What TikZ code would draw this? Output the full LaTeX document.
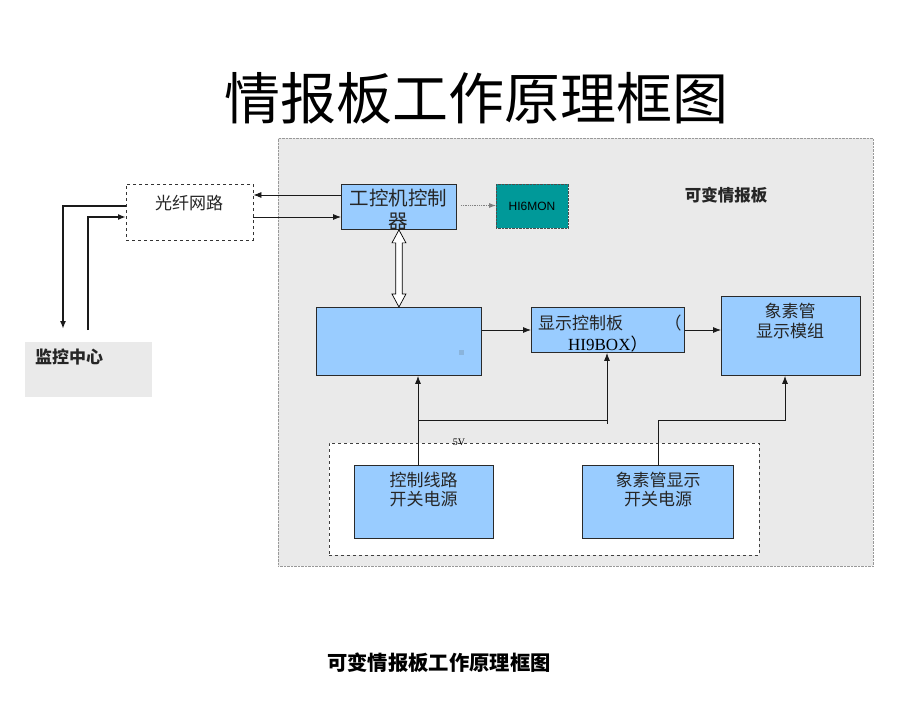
\documentclass[tikz,border=0pt]{standalone}
\usepackage{fontspec}
\setmainfont{Liberation Serif}
\newfontfamily\cjk{Noto Sans CJK SC}
\newfontfamily\arialf{Liberation Sans}
\usetikzlibrary{arrows.meta,calc}
\definecolor{boxblue}{HTML}{99CCFF}
\definecolor{boxedge}{HTML}{2A2A2A}
\definecolor{panelgray}{HTML}{EAEAEA}
\definecolor{teal9}{HTML}{009999}
\definecolor{handle}{HTML}{8AB4DC}
\definecolor{linec}{HTML}{1A1A1A}
\tikzset{
  bluebox/.style={draw=boxedge, fill=boxblue, line width=0.9pt, inner sep=0pt, anchor=north west},
  txt/.style={inner sep=0pt, font=\cjk\fontsize{17}{20}\selectfont, text=black!85},
  arr/.style={draw=linec, line width=0.8pt, -{Latex[length=8pt,width=6pt]}},
  thickarr/.style={draw=linec, line width=1.8pt, -{Latex[length=8pt,width=6pt]}},
  plain/.style={draw=linec, line width=0.8pt}
}
\begin{document}
\begin{tikzpicture}[x=1pt,y=-1pt]
\useasboundingbox[fill=white] (0,0) rectangle (920,711);

% title
\node[inner sep=0pt, font=\cjk\fontsize{56}{60}\selectfont] (title) at (476,98) {情报板工作原理框图};

% panel
\node[draw=gray!80, densely dotted, fill=panelgray, anchor=north west, minimum width=595pt, minimum height=428pt, inner sep=0pt] (panel) at (278,138) {};
\node[txt, font=\cjk\bfseries\fontsize{16.5}{20}\selectfont] (panelt) at (726,195) {可变情报板};

% left side
\node[draw=black!80, dashed, fill=white, anchor=north west, minimum width=127pt, minimum height=56pt, inner sep=0pt] (gx) at (126,184) {};
\node[txt] (gxt) at (189,203) {光纤网路};
\node[fill=panelgray, anchor=north west, minimum width=127pt, minimum height=55pt, inner sep=0pt] (jk) at (25,342) {};
\node[txt, anchor=west, font=\cjk\bfseries\fontsize{17}{20}\selectfont] (jkt) at (35,357) {监控中心};

% boxes
\node[bluebox, minimum width=115pt, minimum height=45pt] (gk) at (341,184) {};
\node[txt, font=\cjk\fontsize{19.5}{22}\selectfont] (gkt1) at (398.5,198) {工控机控制};
\node[txt, font=\cjk\fontsize{19.5}{22}\selectfont] (gkt2) at (398.5,222) {器};

\node[draw=black!70, densely dotted, fill=teal9, anchor=north west, minimum width=72pt, minimum height=44pt, inner sep=0pt] (hm) at (496,184) {};
\node[inner sep=0pt, font=\arialf\fontsize{12}{14}\selectfont] (hmt) at (532,206) {HI6MON};

\node[bluebox, minimum width=165pt, minimum height=68pt] (bb) at (316,307) {};
\node[fill=handle, minimum size=5pt, inner sep=0pt] (hd) at (461,352) {};

\node[bluebox, minimum width=153pt, minimum height=45pt] (xk) at (531,307) {};
\node[txt, anchor=west] (xkt1) at (538,323) {显示控制板};
\node[txt] (xkt2) at (673,323) {（};
\node[inner sep=0pt, anchor=west, font=\fontsize{17}{20}\selectfont] (xkt3) at (568,344) {HI9BOX\cjk）};

\node[bluebox, minimum width=139pt, minimum height=79pt] (xs) at (721,296) {};
\node[txt] (xst1) at (790,311) {象素管};
\node[txt] (xst2) at (790,331) {显示模组};

% power supply group
\node[draw=black!75, dashed, fill=white, anchor=north west, minimum width=430pt, minimum height=112pt, inner sep=0pt] (ps) at (329,443) {};
\node[inner sep=0pt, font=\fontsize{10}{11}\selectfont] (fv) at (459,442) {5V};

\node[bluebox, minimum width=139pt, minimum height=73pt] (kz) at (354,465) {};
\node[txt] (kzt1) at (423.5,480) {控制线路};
\node[txt] (kzt2) at (423.5,499) {开关电源};

\node[bluebox, minimum width=151pt, minimum height=73pt] (xd) at (582,465) {};
\node[txt] (xdt1) at (658,480) {象素管显示};
\node[txt] (xdt2) at (658,499) {开关电源};

% caption
\node[inner sep=0pt, font=\cjk\bfseries\fontsize{20.3}{23}\selectfont] (cap) at (439,663) {可变情报板工作原理框图};

% helper coordinates
\coordinate (y195) at (0,195);
\coordinate (y206) at (0,206);
\coordinate (y217) at (0,217);
\coordinate (y205) at (0,205.5);
\coordinate (y330) at (0,330);
\coordinate (y420) at (0,420);
\coordinate (y424) at (0,424);
\coordinate (x418) at (418,0);
\coordinate (x607) at (607,0);
\coordinate (x658) at (658,0);
\coordinate (x785) at (785,0);
\coordinate (c1) at (63,329);
\coordinate (c2) at (88,330);

% connectors
\draw[arr] (gk.west |- y195) -- (gx.east |- y195);
\draw[arr] (gx.east |- y217) -- (gk.west |- y217);
\draw[thickarr] (gx.west |- y206) -| (c1);
\draw[thickarr] (c2) |- (gx.west |- y217);
\draw[draw=gray, line width=0.8pt, densely dotted, -{Latex[length=7pt,width=5pt]}] ($(gk.east |- y205)+(4,0)$) -- (hm.west |- y205);

% double hollow arrow
\path let \p1=(gk.south), \p2=(bb.north) in
  [draw=black, fill=white, line width=0.7pt]
  (\x1,\y1) -- (\x1+7,\y1-13) -- (\x1+3.2,\y1-13) -- (\x2+3.2,\y2+13) -- (\x2+7,\y2+13)
  -- (\x2,\y2) -- (\x2-7,\y2+13) -- (\x2-3.2,\y2+13) -- (\x1-3.2,\y1-13) -- (\x1-7,\y1-13) -- cycle;

\draw[arr] (bb.east |- y330) -- (xk.west |- y330);
\draw[arr] (xk.east |- y330) -- (xs.west |- y330);
\draw[arr] (kz.north -| x418) -- (bb.south -| x418);
\draw[arr] (x418 |- y420) -| (xk.south -| x607);
\draw[plain] (x607 |- y420) -- (x607 |- y424);
\draw[arr] (xd.north -| x658) |- (x785 |- y420) -- (xs.south -| x785);
\end{tikzpicture}
\end{document}
